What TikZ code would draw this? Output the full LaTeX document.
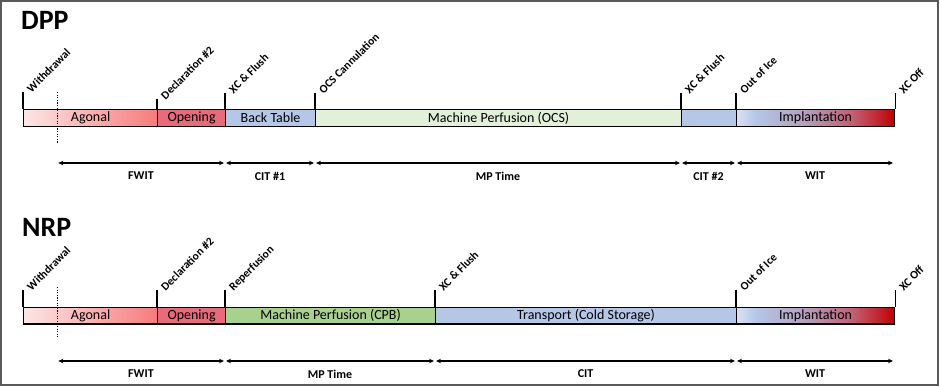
\documentclass[tikz,border=0pt]{standalone}
\usepackage{fontspec}
\setmainfont{Carlito}
\usetikzlibrary{arrows.meta}
\definecolor{agA}{HTML}{FDE6E6}
\definecolor{agB}{HTML}{F77B7B}
\definecolor{openc}{HTML}{E96A7A}
\definecolor{bluec}{HTML}{B4C7E7}
\definecolor{ocsc}{HTML}{E2F0D9}
\definecolor{cpbc}{HTML}{A9D18E}
\definecolor{imA}{HTML}{D9E2F3}
\definecolor{imB}{HTML}{B4C7E7}
\definecolor{imC}{HTML}{B59EBB}
\definecolor{imD}{HTML}{C35C71}
\definecolor{imE}{HTML}{C00000}
\definecolor{framec}{HTML}{595959}
\pgfdeclarehorizontalshading{agonalsh}{100bp}{color(0bp)=(agA); color(25bp)=(agA); color(75bp)=(agB); color(100bp)=(agB)}
\pgfdeclarehorizontalshading{implsh}{100bp}{color(0bp)=(imA); color(25bp)=(imA); color(31bp)=(imB); color(47bp)=(imC); color(62bp)=(imD); color(75bp)=(imE); color(100bp)=(imE)}
\begin{document}
\begin{tikzpicture}[x=1pt,y=1pt,
  seg/.style={draw=black, line width=1.2pt, minimum height=16.5pt, inner sep=0pt, anchor=west, font=\fontsize{14}{14}\selectfont},
  tickline/.style={line width=1.2pt},
  evt/.style={rotate=45, anchor=base west, inner sep=0pt, font=\bfseries\fontsize{11.5}{12}\selectfont},
  span/.style={{Stealth[length=5pt,width=4.5pt]}-{Stealth[length=5pt,width=4.5pt]}, line width=1.2pt, shorten <=1pt, shorten >=1pt},
  spanlbl/.style={font=\bfseries\fontsize{12}{12}\selectfont, inner sep=0pt},
  title/.style={font=\bfseries\fontsize{28}{28}\selectfont, anchor=base west, inner sep=0pt},
  dotline/.style={line width=1.3pt, dash pattern=on 1.3pt off 1.3pt}]
\useasboundingbox (0,0) rectangle (940,-387);
\draw[framec, line width=1.2pt] (1,-1) rectangle (938,-385);

% ---------------- DPP ----------------
\node[title] (dpp) at (21,-30) {DPP};
\node[seg, shading=agonalsh, minimum width=134pt] (dAg) at (23,-118) {Agonal};
\node[seg, fill=openc, minimum width=68pt] (dOp) at (157,-118) {Opening};
\node[seg, fill=bluec, minimum width=90pt] (dBt) at (225,-118) {Back Table};
\node[seg, fill=ocsc, minimum width=366pt] (dMp) at (315,-118) {Machine Perfusion (OCS)};
\node[seg, fill=bluec, minimum width=55pt] (dCs) at (681,-118) {};
\node[seg, shading=implsh, minimum width=158pt] (dIm) at (736,-118) {Implantation};

\draw[tickline] (dAg.north west) -- ++(0,17) coordinate (dt1);
\draw[tickline] (dOp.north west) -- ++(0,10) coordinate (dt2);
\draw[tickline] (dBt.north west) -- ++(0,16) coordinate (dt3);
\draw[tickline] (dMp.north west) -- ++(0,16) coordinate (dt4);
\draw[tickline] (dCs.north west) -- ++(0,16) coordinate (dt5);
\draw[tickline] (dIm.north west) -- ++(0,16) coordinate (dt6);
\draw[tickline] (dIm.north east) -- ++(0,16) coordinate (dt7);

\node[evt] (de1) at ([shift={(8.5,-1)}]dt1) {Withdrawal};
\node[evt] (de2) at ([shift={(8.5,-1)}]dt2) {Declaration \#2};
\node[evt] (de3) at ([shift={(8.5,-1)}]dt3) {XC \& Flush};
\node[evt] (de4) at ([shift={(8.5,-1)}]dt4) {OCS Cannulation};
\node[evt] (de5) at ([shift={(8.5,-1)}]dt5) {XC \& Flush};
\node[evt] (de6) at ([shift={(8.5,-1)}]dt6) {Out of Ice};
\node[evt] (de7) at ([shift={(8.5,-1)}]dt7) {XC Off};

\draw[dotline] (57.3,-92) coordinate (ddA) -- (57.3,-143) coordinate (ddB);

\coordinate (da0) at (57.3,-163);
\coordinate (da1) at (225,-163);
\coordinate (da2) at (315,-163);
\coordinate (da3) at (681,-163);
\coordinate (da4) at (736,-163);
\coordinate (da5) at (894,-163);
\draw[span] (da0) -- (da1);
\draw[span] (da1) -- (da2);
\draw[span] (da2) -- (da3);
\draw[span] (da3) -- (da4);
\draw[span] (da4) -- (da5);
\node[spanlbl] (dl1) at (141,-176) {FWIT};
\node[spanlbl] (dl2) at (270,-176) {CIT \#1};
\node[spanlbl] (dl3) at (498,-176) {MP Time};
\node[spanlbl] (dl4) at (708.5,-176) {CIT \#2};
\node[spanlbl] (dl5) at (815,-176) {WIT};

% ---------------- NRP ----------------
\node[title] (nrp) at (22,-236.7) {NRP};
\node[seg, shading=agonalsh, minimum width=134pt] (nAg) at (23,-315.8) {Agonal};
\node[seg, fill=openc, minimum width=68pt] (nOp) at (157,-315.8) {Opening};
\node[seg, fill=cpbc, minimum width=210pt] (nMp) at (225,-315.8) {Machine Perfusion (CPB)};
\node[seg, fill=bluec, minimum width=301pt] (nTr) at (435,-315.8) {Transport (Cold Storage)};
\node[seg, shading=implsh, minimum width=158pt] (nIm) at (736,-315.8) {Implantation};

\draw[tickline] (nAg.north west) -- ++(0,16.5) coordinate (nt1);
\draw[tickline] (nOp.north west) -- ++(0,16.5) coordinate (nt2);
\draw[tickline] (nMp.north west) -- ++(0,16.5) coordinate (nt3);
\draw[tickline] (nTr.north west) -- ++(0,16.5) coordinate (nt4);
\draw[tickline] (nIm.north west) -- ++(0,16.5) coordinate (nt5);
\draw[tickline] (nIm.north east) -- ++(0,16.5) coordinate (nt6);

\node[evt] (ne1) at ([shift={(8.5,-1)}]nt1) {Withdrawal};
\node[evt] (ne2) at ([shift={(8.5,-1)}]nt2) {Declaration \#2};
\node[evt] (ne3) at ([shift={(8.5,-1)}]nt3) {Reperfusion};
\node[evt] (ne4) at ([shift={(8.5,-1)}]nt4) {XC \& Flush};
\node[evt] (ne5) at ([shift={(8.5,-1)}]nt5) {Out of Ice};
\node[evt] (ne6) at ([shift={(8.5,-1)}]nt6) {XC Off};

\draw[dotline] (57.3,-287) coordinate (ndA) -- (57.3,-337) coordinate (ndB);

\coordinate (na0) at (57.3,-361);
\coordinate (na1) at (225,-361);
\coordinate (na2) at (435,-361);
\coordinate (na3) at (736,-361);
\coordinate (na4) at (894,-361);
\draw[span] (na0) -- (na1);
\draw[span] (na1) -- (na2);
\draw[span] (na2) -- (na3);
\draw[span] (na3) -- (na4);
\node[spanlbl] (nl1) at (141,-374) {FWIT};
\node[spanlbl] (nl2) at (330,-374) {MP Time};
\node[spanlbl] (nl3) at (585.5,-374) {CIT};
\node[spanlbl] (nl4) at (815,-374) {WIT};
\end{tikzpicture}
\end{document}
